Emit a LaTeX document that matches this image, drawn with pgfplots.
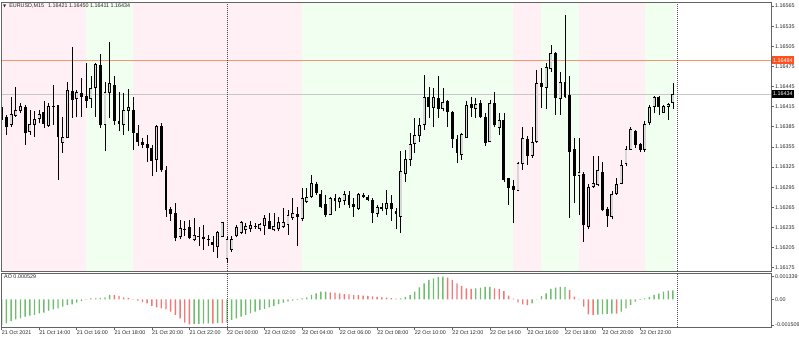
\documentclass[border=0pt]{standalone}
\usepackage{pgfplots}
\pgfplotsset{compat=1.18}
\usepackage{pgfplotstable}
\usepackage{fontspec}
\setmainfont{Liberation Sans}
\newfontfamily\dejavu{DejaVu Sans}
\definecolor{pinkbg}{HTML}{FFF0F5}
\definecolor{greenbg}{HTML}{F0FFF0}
\definecolor{aogreen}{RGB}{110,190,110}
\definecolor{aored}{RGB}{240,120,120}
\definecolor{bidline}{RGB}{245,150,110}
\definecolor{bidbox}{RGB}{255,80,30}
\definecolor{bullfill}{RGB}{215,215,215}
\definecolor{framec}{RGB}{100,100,100}
\definecolor{txt}{RGB}{40,40,40}

% rising M15 bars: open high low close
\pgfplotstableread{
i o h l c
2 1.16388 1.16430 1.16385 1.16403
3 1.16402 1.16445 1.16400 1.16409
4 1.16410 1.16421 1.16406 1.16416
6 1.16378 1.16410 1.16373 1.16388
7 1.16389 1.16408 1.16370 1.16396
8 1.16398 1.16410 1.16390 1.16404
10 1.16387 1.16420 1.16385 1.16416
13 1.16362 1.16400 1.16346 1.16370
14 1.16370 1.16452 1.16368 1.16439
16 1.16428 1.16440 1.16399 1.16437
19 1.16427 1.16460 1.16413 1.16443
20 1.16444 1.16480 1.16400 1.16478
22 1.16388 1.16452 1.16349 1.16437
23 1.16437 1.16511 1.16398 1.16450
26 1.16389 1.16435 1.16373 1.16409
27 1.16410 1.16441 1.16378 1.16414
33 1.16336 1.16388 1.16318 1.16385
38 1.16221 1.16246 1.16217 1.16234
41 1.16218 1.16249 1.16214 1.16223
46 1.16207 1.16229 1.16189 1.16227
47 1.16222 1.16243 1.16221 1.16242
48 1.16189 1.16222 1.16182 1.16218
49 1.16202 1.16222 1.16199 1.16218
50 1.16223 1.16239 1.16220 1.16235
51 1.16227 1.16245 1.16225 1.16242
52 1.16232 1.16242 1.16225 1.16236
53 1.16233 1.16244 1.16228 1.16238
55 1.16234 1.16242 1.16229 1.16239
56 1.16238 1.16254 1.16224 1.16249
58 1.16232 1.16256 1.16229 1.16236
59 1.16234 1.16251 1.16229 1.16242
60 1.16236 1.16264 1.16234 1.16243
61 1.16240 1.16261 1.16224 1.16253
62 1.16250 1.16279 1.16246 1.16256
64 1.16249 1.16294 1.16244 1.16278
65 1.16274 1.16294 1.16271 1.16280
66 1.16281 1.16313 1.16279 1.16301
70 1.16255 1.16281 1.16254 1.16278
72 1.16274 1.16281 1.16264 1.16278
73 1.16275 1.16289 1.16269 1.16284
76 1.16263 1.16286 1.16261 1.16285
80 1.16256 1.16269 1.16250 1.16265
82 1.16264 1.16291 1.16254 1.16271
85 1.16251 1.16349 1.16227 1.16318
86 1.16316 1.16351 1.16303 1.16336
87 1.16336 1.16376 1.16326 1.16359
88 1.16360 1.16398 1.16346 1.16373
89 1.16372 1.16398 1.16363 1.16387
90 1.16388 1.16462 1.16380 1.16429
92 1.16414 1.16443 1.16385 1.16429
94 1.16413 1.16443 1.16408 1.16421
98 1.16344 1.16376 1.16336 1.16374
99 1.16370 1.16423 1.16369 1.16417
101 1.16412 1.16428 1.16398 1.16419
104 1.16364 1.16425 1.16363 1.16420
106 1.16384 1.16405 1.16373 1.16394
110 1.16291 1.16333 1.16289 1.16331
111 1.16331 1.16385 1.16321 1.16368
113 1.16343 1.16385 1.16338 1.16362
114 1.16363 1.16470 1.16361 1.16450
116 1.16444 1.16480 1.16411 1.16474
117 1.16472 1.16507 1.16467 1.16494
119 1.16428 1.16466 1.16403 1.16451
123 1.16313 1.16368 1.16254 1.16317
125 1.16236 1.16299 1.16232 1.16295
126 1.16296 1.16341 1.16294 1.16300
127 1.16299 1.16342 1.16296 1.16320
130 1.16251 1.16289 1.16247 1.16285
131 1.16286 1.16309 1.16284 1.16299
132 1.16300 1.16336 1.16299 1.16328
133 1.16330 1.16356 1.16326 1.16352
134 1.16352 1.16385 1.16351 1.16381
137 1.16351 1.16393 1.16348 1.16389
138 1.16391 1.16418 1.16388 1.16414
139 1.16415 1.16431 1.16405 1.16429
141 1.16406 1.16418 1.16405 1.16415
142 1.16415 1.16421 1.16395 1.16419
143 1.16421 1.16450 1.16411 1.16434
}\bull

% falling M15 bars: open high low close
\pgfplotstableread{
i o h l c
0 1.16415 1.16423 1.16393 1.16395
1 1.16399 1.16403 1.16373 1.16385
5 1.16414 1.16418 1.16358 1.16375
9 1.16407 1.16423 1.16383 1.16389
11 1.16416 1.16448 1.16388 1.16415
12 1.16417 1.16418 1.16306 1.16370
15 1.16439 1.16504 1.16398 1.16425
17 1.16436 1.16458 1.16400 1.16430
18 1.16431 1.16480 1.16413 1.16424
21 1.16477 1.16493 1.16383 1.16388
24 1.16447 1.16460 1.16388 1.16394
25 1.16394 1.16437 1.16378 1.16389
28 1.16410 1.16430 1.16351 1.16376
29 1.16376 1.16388 1.16356 1.16363
30 1.16362 1.16368 1.16353 1.16358
31 1.16360 1.16372 1.16333 1.16353
32 1.16353 1.16358 1.16311 1.16334
34 1.16386 1.16390 1.16318 1.16321
35 1.16321 1.16326 1.16251 1.16261
36 1.16262 1.16266 1.16244 1.16255
37 1.16256 1.16272 1.16214 1.16219
39 1.16233 1.16244 1.16222 1.16232
40 1.16235 1.16246 1.16217 1.16219
42 1.16222 1.16236 1.16207 1.16221
43 1.16220 1.16239 1.16202 1.16217
44 1.16218 1.16224 1.16207 1.16216
45 1.16213 1.16222 1.16199 1.16209
54 1.16237 1.16242 1.16233 1.16236
57 1.16245 1.16256 1.16232 1.16233
63 1.16255 1.16266 1.16207 1.16251
67 1.16300 1.16303 1.16284 1.16286
68 1.16285 1.16291 1.16264 1.16265
69 1.16270 1.16284 1.16251 1.16254
71 1.16279 1.16285 1.16259 1.16274
74 1.16284 1.16289 1.16264 1.16269
75 1.16270 1.16279 1.16251 1.16266
77 1.16284 1.16286 1.16279 1.16280
78 1.16280 1.16283 1.16274 1.16276
79 1.16276 1.16279 1.16242 1.16256
81 1.16266 1.16271 1.16259 1.16263
83 1.16272 1.16284 1.16245 1.16263
84 1.16259 1.16264 1.16232 1.16255
91 1.16430 1.16445 1.16398 1.16414
93 1.16428 1.16461 1.16398 1.16412
95 1.16424 1.16425 1.16385 1.16407
96 1.16407 1.16408 1.16353 1.16367
97 1.16367 1.16373 1.16331 1.16346
100 1.16419 1.16430 1.16400 1.16413
102 1.16421 1.16425 1.16398 1.16400
103 1.16400 1.16405 1.16356 1.16361
105 1.16420 1.16437 1.16385 1.16387
107 1.16395 1.16405 1.16303 1.16306
108 1.16308 1.16309 1.16269 1.16294
109 1.16296 1.16306 1.16242 1.16291
112 1.16367 1.16372 1.16328 1.16341
115 1.16450 1.16472 1.16413 1.16444
118 1.16495 1.16497 1.16403 1.16428
120 1.16451 1.16552 1.16428 1.16430
121 1.16433 1.16460 1.16249 1.16348
122 1.16352 1.16368 1.16271 1.16312
124 1.16315 1.16318 1.16213 1.16238
128 1.16317 1.16333 1.16259 1.16261
129 1.16263 1.16266 1.16236 1.16252
135 1.16379 1.16380 1.16353 1.16358
136 1.16359 1.16361 1.16347 1.16350
140 1.16429 1.16431 1.16403 1.16415
}\bear

% Awesome Oscillator, rising bars
\pgfplotstableread{
i ao
0 -0.001509
1 -0.00142
2 -0.00128
3 -0.00118
4 -0.00112
5 -0.00102
6 -0.00096
7 -0.00092
8 -0.00083
9 -0.00079
10 -0.00067
11 -0.00059
12 -0.00053
13 -0.00043
14 -0.00033
15 -0.00030
16 -0.00020
17 -0.00010
18 -0.00002
19 0.00006
21 0.00008
22 0.00011
23 0.00026
41 -0.00147
42 -0.00145
43 -0.00144
44 -0.00142
46 -0.00140
48 -0.00138
49 -0.00122
50 -0.00112
51 -0.00102
52 -0.00092
53 -0.00083
54 -0.00073
55 -0.00063
56 -0.00057
57 -0.00047
58 -0.00039
59 -0.00028
60 -0.00020
61 -0.00014
62 -0.00008
63 -0.00004
64 0.00006
65 0.00012
66 0.00026
67 0.00035
68 0.00045
69 0.00046
85 0.00006
86 0.00014
87 0.00024
88 0.00045
89 0.00071
90 0.00094
91 0.00114
92 0.00124
93 0.00132
94 0.001339
101 0.00065
102 0.00069
103 0.00073
104 0.00074
113 -0.00024
114 0.00001
115 0.00020
116 0.00035
117 0.00061
118 0.00069
119 0.00073
120 0.00074
127 -0.00090
128 -0.00089
129 -0.00086
130 -0.00084
132 -0.00073
133 -0.00053
134 -0.00033
135 -0.00014
136 -0.00004
137 0.00006
138 0.00014
139 0.00026
140 0.00033
141 0.00045
142 0.00051
143 0.000529
}\aoup

% Awesome Oscillator, falling bars
\pgfplotstableread{
i ao
20 0.00005
24 0.00025
25 0.00020
26 0.00012
27 0.00008
28 0.00001
29 -0.00008
30 -0.00016
31 -0.00024
32 -0.00039
33 -0.00047
34 -0.00053
35 -0.00059
36 -0.00073
37 -0.00092
38 -0.00112
39 -0.00138
40 -0.00148
45 -0.00143
47 -0.00141
70 0.00041
71 0.00039
72 0.00035
73 0.00031
74 0.00029
75 0.00026
76 0.00024
77 0.00022
78 0.00020
79 0.00017
80 0.00014
81 0.00012
82 0.00010
83 0.00007
84 0.00004
95 0.00128
96 0.00114
97 0.00094
98 0.00079
99 0.00065
100 0.00061
105 0.00065
106 0.00061
107 0.00049
108 0.00022
109 0.00004
110 -0.00018
111 -0.00030
112 -0.00035
121 0.00055
122 0.00016
123 0.00002
124 -0.00043
125 -0.00089
126 -0.00093
131 -0.00085
}\aodown

\pgfplotsset{
  wick/.style={draw=none, mark=none,
    error bars/.cd, y dir=plus, y explicit, error mark=none,
    error bar style={draw=black, solid, line width=0.6pt}},
  body/.style={draw=none, mark=none,
    error bars/.cd, y dir=plus, y explicit, error mark=none,
    error bar style={draw=#1, solid, line width=2.9pt}},
}

\begin{document}
\begin{tikzpicture}[font=\fontsize{5.4}{6}\selectfont]
% main price panel: y axis in points above 1.16000 (1 unit = 0.00001)
\begin{axis}[
  at={(1.5pt,70pt)}, anchor=south west, scale only axis,
  width=769.5pt, height=269pt,
  xmin=-0.04, xmax=163.9, ymin=170, ymax=571,
  axis on top, clip mode=individual,
  axis line style={framec, line width=0.8pt},
  xtick=\empty,
  ytick={175,205,235,265,295,325,355,385,415,445,475,505,535,565},
  yticklabels={1.16175,1.16205,1.16235,1.16265,1.16295,1.16325,1.16355,1.16385,1.16415,1.16445,1.16475,1.16505,1.16535,1.16565},
  ytick pos=right, tick align=outside, major tick length=3pt,
  tick style={framec, line width=0.6pt},
  yticklabel style={anchor=west, inner sep=0pt, xshift=1pt, text=txt},
]
% session background bands
\addplot[fill=pinkbg, draw=none] coordinates {(-0.04,170) (-0.04,571) (18,571) (18,170)};
\addplot[fill=greenbg, draw=none] coordinates {(18,170) (18,571) (28,571) (28,170)};
\addplot[fill=pinkbg, draw=none] coordinates {(28,170) (28,571) (64,571) (64,170)};
\addplot[fill=greenbg, draw=none] coordinates {(64,170) (64,571) (109,571) (109,170)};
\addplot[fill=pinkbg, draw=none] coordinates {(109,170) (109,571) (115,571) (115,170)};
\addplot[fill=greenbg, draw=none] coordinates {(115,170) (115,571) (123,571) (123,170)};
\addplot[fill=pinkbg, draw=none] coordinates {(123,170) (123,571) (137,571) (137,170)};
\addplot[fill=greenbg, draw=none] coordinates {(137,170) (137,571) (143.5,571) (143.5,170)};
% price lines 1.16484 and 1.16434
\addplot[bidline, line width=1.3pt] coordinates {(-0.04,484) (163.9,484)};
\addplot[black!22, line width=0.7pt] coordinates {(-0.04,434) (163.9,434)};
% period separators
\addplot[black!70, line width=0.6pt, dash pattern=on 1pt off 1pt] coordinates {(48,170) (48,571)};
\addplot[black!70, line width=0.6pt, dash pattern=on 1pt off 1pt] coordinates {(144,170) (144,571)};
% wicks
\addplot[wick] table[x=i, y expr={(\thisrow{l}-1.16)*100000}, y error expr={(\thisrow{h}-\thisrow{l})*100000}] {\bear};
\addplot[wick] table[x=i, y expr={(\thisrow{l}-1.16)*100000}, y error expr={(\thisrow{h}-\thisrow{l})*100000}] {\bull};
% falling bodies
\addplot[body=black] table[x=i, y expr={(\thisrow{c}-1.16)*100000}, y error expr={(\thisrow{o}-\thisrow{c})*100000}] {\bear};
% rising bodies: outline, then light inner fill, then top and bottom edges
\addplot[body=black] table[x=i, y expr={(\thisrow{o}-1.16)*100000}, y error expr={(\thisrow{c}-\thisrow{o})*100000}] {\bull};
\addplot[draw=none, mark=none,
  error bars/.cd, y dir=plus, y explicit, error mark=none,
  error bar style={draw=bullfill, solid, line width=1.7pt}]
  table[x=i, y expr={(\thisrow{o}-1.16)*100000}, y error expr={(\thisrow{c}-\thisrow{o})*100000}] {\bull};
\addplot[only marks, mark=-, mark size=1.45pt, mark options={draw=black, solid, line width=0.6pt}]
  table[x=i, y expr={(\thisrow{o}-1.16)*100000}] {\bull};
\addplot[only marks, mark=-, mark size=1.45pt, mark options={draw=black, solid, line width=0.6pt}]
  table[x=i, y expr={(\thisrow{c}-1.16)*100000}] {\bull};
\end{axis}

% AO panel: y axis in units of 0.00001
\begin{axis}[
  at={(1.5pt,14pt)}, anchor=south west, scale only axis,
  width=769.5pt, height=54pt,
  xmin=-0.04, xmax=163.9, ymin=-163.4, ymax=155.2,
  axis on top, clip mode=individual,
  axis line style={framec, line width=0.8pt},
  xtick={0,8,16,24,32,40,48,56,64,72,80,88,96,104,112,120,128,136},
  xticklabels={21 Oct 2021,21 Oct 14:00,21 Oct 16:00,21 Oct 18:00,21 Oct 20:00,21 Oct 22:00,22 Oct 00:00,22 Oct 02:00,22 Oct 04:00,22 Oct 06:00,22 Oct 08:00,22 Oct 10:00,22 Oct 12:00,22 Oct 14:00,22 Oct 16:00,22 Oct 18:00,22 Oct 20:00,22 Oct 22:00},
  xtick pos=lower, ytick pos=right, tick align=outside, major tick length=3pt,
  tick style={framec, line width=0.6pt},
  xticklabel style={anchor=north west, inner sep=0pt, yshift=-1pt, text=txt},
  ytick={-150.9,0,133.9},
  yticklabels={-0.001509,0.00,0.001339},
  yticklabel style={anchor=west, inner sep=0pt, xshift=1pt, text=txt},
]
\addplot[ybar, bar width=1.4pt, bar shift=0pt, fill=aogreen, draw=none] table[x=i, y expr={\thisrow{ao}*100000}] {\aoup};
\addplot[ybar, bar width=1.4pt, bar shift=0pt, fill=aored, draw=none] table[x=i, y expr={\thisrow{ao}*100000}] {\aodown};
\addplot[black!70, line width=0.6pt, dash pattern=on 1pt off 1pt] coordinates {(48,-163.4) (48,155.2)};
\addplot[black!70, line width=0.6pt, dash pattern=on 1pt off 1pt] coordinates {(144,-163.4) (144,155.2)};
\end{axis}

% labels
\node[anchor=west, inner sep=0pt, text=txt] at (3pt,335pt) {{\dejavu\fontsize{4}{4}\selectfont ▼}\hspace{3pt}EURUSD,M15\hspace{4pt}1.16421 1.16450 1.16411 1.16434};
\node[anchor=west, inner sep=0pt, text=txt] at (4pt,64pt) {AO 0.000529};
\node[anchor=west, fill=bidbox, text=white, inner sep=1pt, minimum height=8pt] at (772pt,280.6pt) {1.16484};
\node[anchor=west, fill=black, text=white, inner sep=1pt, minimum height=8pt] at (772pt,247pt) {1.16434};
\pgfresetboundingbox
\useasboundingbox (0pt,0pt) rectangle (799pt,341pt);
\end{tikzpicture}
\end{document}
